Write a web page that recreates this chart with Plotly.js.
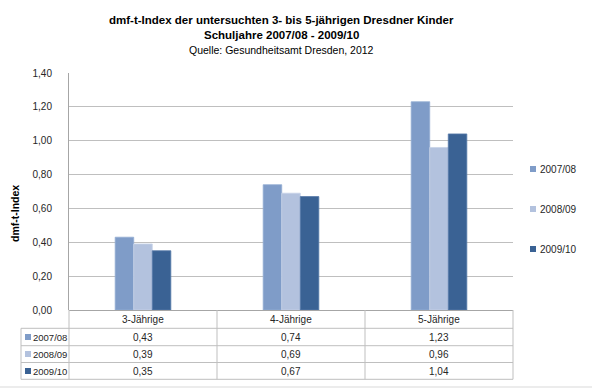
<!DOCTYPE html>
<html>
<head>
<meta charset="utf-8">
<script src="https://cdn.plot.ly/plotly-3.0.1.min.js"></script>
<style>html,body{margin:0;padding:0;background:#fff;}#chart{width:600px;height:388px;}</style>
</head>
<body>
<div id="chart"></div>
<script>
const categories = ['3-Jährige', '4-Jährige', '5-Jährige'];
const seriesNames = ['2007/08', '2008/09', '2009/10'];
const values2007 = [0.43, 0.74, 1.23];
const values2008 = [0.39, 0.69, 0.96];
const values2009 = [0.35, 0.67, 1.04];
const yTicks = [0, 0.2, 0.4, 0.6, 0.8, 1.0, 1.2, 1.4];

const seriesValues = [values2007, values2008, values2009];
const colors = ['#7F9CC8', '#B3C2DE', '#3A6294'];
const outlines = ['#93ADD3', '#C6D2E7', '#5578A8'];

// pixel geometry helpers (plot area: x 69..513, y 73..310)
const L = 69, W = 444, T = 73, H = 237;
const px = v => (v - L) / W;
const py = v => (T + H - v) / H;

const font = 'Liberation Sans, Arial, sans-serif';
const gridCol = '#BFBFBF';
const txtCol = '#262626';

const traces = seriesNames.map((n, i) => ({
  type: 'bar', name: n, x: categories, y: seriesValues[i],
  marker: {color: colors[i], line: {color: outlines[i], width: 0.8}},
  hoverinfo: 'x+y+name', showlegend: false
}));

const shapes = [];
const annotations = [];
const line = (x0, y0, x1, y1, c) => shapes.push({type: 'line', xref: 'paper', yref: 'paper',
  x0: px(x0), y0: py(y0), x1: px(x1), y1: py(y1), line: {color: c || gridCol, width: 1}});
const ann = o => annotations.push(Object.assign({showarrow: false, xanchor: 'center', yanchor: 'middle',
  xref: 'paper', yref: 'paper'}, o));

// table grid
const rowLines = [328.3, 345.7, 362.5, 379.3];
const rowCenters = [337, 354, 371];
line(69, 310.5, 513, 310.5, '#A6A6A6');
rowLines.forEach(y => line(21, y, 513, y));
line(21, 328.3, 21, 379.3);
[69, 217, 365, 513].forEach(x => line(x, 310, x, 379.3));
// frame bottom line
line(0, 387, 592, 387, '#D9D9D9');

// header row: category names
categories.forEach(c => ann({xref: 'x', x: c, y: py(319.5),
  text: c, font: {family: font, size: 10, color: txtCol}}));

// rows with values
seriesNames.forEach((n, i) => {
  const yc = rowCenters[i];
  shapes.push({type: 'rect', xref: 'paper', yref: 'paper', x0: px(25), x1: px(31),
    y0: py(yc + 3), y1: py(yc - 3), fillcolor: colors[i], line: {width: 0}});
  ann({x: px(31), y: py(yc), xanchor: 'left',
    text: n, font: {family: font, size: 9.5, color: txtCol}});
  categories.forEach((c, j) => ann({xref: 'x', x: c, y: py(yc),
    text: seriesValues[i][j].toFixed(2).replace('.', ','),
    font: {family: font, size: 10, color: txtCol}}));
  // right legend
  const ly = [169, 209, 249][i];
  shapes.push({type: 'rect', xref: 'paper', yref: 'paper', x0: px(530), x1: px(536),
    y0: py(ly + 3), y1: py(ly - 3), fillcolor: colors[i], line: {width: 0}});
  ann({x: px(537.5), y: py(ly), xanchor: 'left',
    text: n, font: {family: font, size: 10, color: txtCol}});
});

// titles
const titleLines = [
  {t: '<b>dmf-t-Index der untersuchten 3- bis 5-jährigen Dresdner Kinder</b>', y: 20, s: 11.5},
  {t: '<b>Schuljahre 2007/08 - 2009/10</b>', y: 35, s: 11.5},
  {t: 'Quelle: Gesundheitsamt Dresden, 2012', y: 50, s: 10.5}
];
titleLines.forEach(o => ann({x: px(281), y: py(o.y),
  text: o.t, font: {family: font, size: o.s, color: '#000'}}));

// y axis title
ann({x: px(15), y: py(214), textangle: -90,
  text: '<b>dmf-t-Index</b>', font: {family: font, size: 10.5, color: '#000'}});

const layout = {
  width: 600, height: 388,
  margin: {l: L, r: 600 - L - W, t: T, b: 388 - T - H, pad: 0},
  paper_bgcolor: '#fff', plot_bgcolor: '#fff',
  separators: ',.',
  barmode: 'group', bargap: 0.624, bargroupgap: 0,
  showlegend: false,
  xaxis: {type: 'category', showticklabels: false, ticks: '', showgrid: false,
    showline: false, zeroline: false, fixedrange: true},
  yaxis: {range: [0, 1.4], tickvals: yTicks, tickformat: '.2f', showgrid: true,
    gridcolor: gridCol, gridwidth: 1, zeroline: false, showline: true, linecolor: '#A6A6A6',
    linewidth: 1, ticks: 'outside', ticklen: 14, tickcolor: 'rgba(0,0,0,0)',
    tickfont: {family: font, size: 10, color: txtCol}, fixedrange: true},
  shapes: shapes, annotations: annotations
};

Plotly.newPlot('chart', traces, layout, {displayModeBar: false, staticPlot: true});
</script>
</body>
</html>
